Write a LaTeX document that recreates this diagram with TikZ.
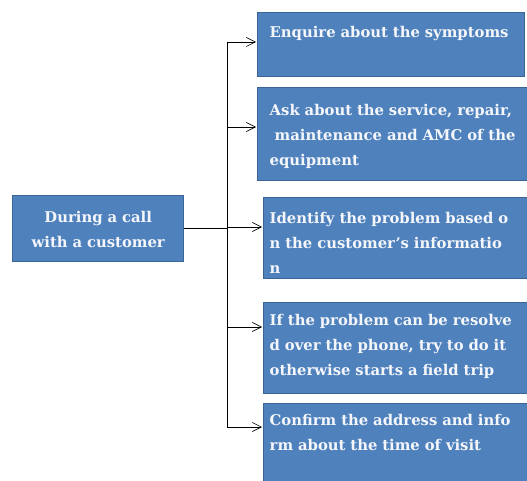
\documentclass[tikz,border=0pt]{standalone}
\usepackage{fontspec}
\setmainfont{DejaVu Serif}
\usepackage{tikz}
\usetikzlibrary{arrows.meta,calc,positioning}
\definecolor{kutuMavi}{HTML}{4F81BD}
\definecolor{kenarMavi}{HTML}{3A6494}
\definecolor{yaziBeyaz}{HTML}{F4F6FA}

\tikzset{
  kutu/.style={draw=kenarMavi,line width=1.4pt,fill=kutuMavi,text=yaziBeyaz,
    font=\bfseries\fontsize{14.8}{25}\selectfont,align=left,anchor=north west,inner ysep=0pt},
  ok/.style={-{Straight Barb[length=9pt,width=9pt]},line width=0.6pt,shorten >=1pt},
  hat/.style={line width=0.6pt}
}

\begin{document}
\begin{tikzpicture}[x=1pt,y=-1pt]
\useasboundingbox (0,0) rectangle (527,481);
% sol kutu
\node[kutu,align=center,inner xsep=6pt,text width=159pt,text height=27pt,text depth=39pt]
  (src) at (12,195) {During a call\\with a customer};
% sag kutular
\node[kutu,inner xsep=12pt,text width=243pt,text height=25pt,text depth=39pt]
  (b1) at (257,12) {Enquire about the symptoms};
\node[kutu,inner xsep=12pt,text width=253pt,text height=28pt,text depth=65pt]
  (b2) at (257,87) {Ask about the service, repair,\\\hspace*{5pt}maintenance and AMC of the\\equipment};
\node[kutu,inner xsep=6pt,text width=259pt,text height=26pt,text depth=55pt]
  (b3) at (263,197) {Identify the problem based o\\n the customer's informatio\\n};
\node[kutu,inner xsep=6pt,text width=259pt,text height=23pt,text depth=68pt]
  (b4) at (263,302) {If the problem can be resolve\\d over the phone, try to do it\\otherwise starts a field trip};
\node[kutu,inner xsep=6pt,text width=259pt,text height=22pt,text depth=90pt]
  (b5) at (263,403) {Confirm the address and info\\rm about the time of visit};
% baglantilar
\coordinate (trunk) at (227,228);
\foreach \k/\dy in {1/30,2/40,3/30,4/25,5/24}
  \coordinate (g\k) at ($(b\k.north west)+(0,\dy)$);
\draw[hat] (src.east) -- (src.east -| trunk);
\draw[hat] (g1 -| trunk) -- (g5 -| trunk);
\foreach \k in {1,...,5}
  \draw[ok] (g\k -| trunk) -- (g\k);
\end{tikzpicture}
\end{document}
